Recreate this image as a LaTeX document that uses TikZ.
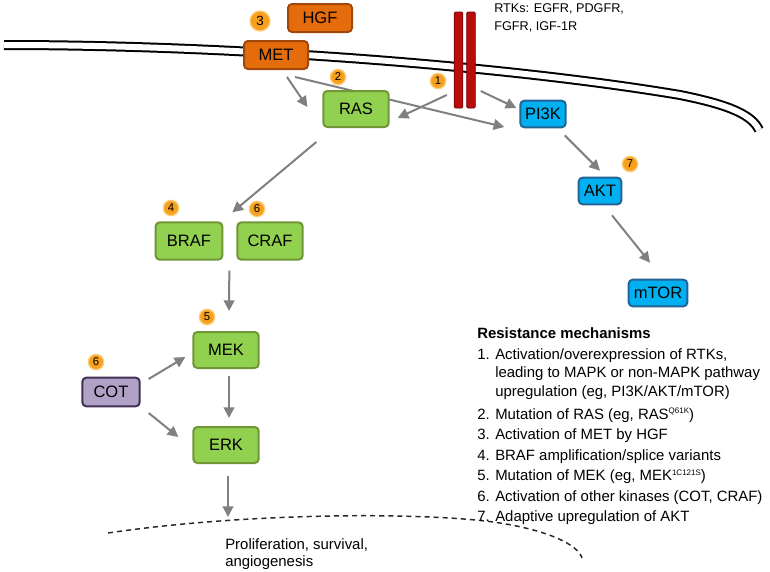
\documentclass[tikz,border=0pt]{standalone}
\usepackage{fontspec}
\setmainfont{Liberation Sans}
\usetikzlibrary{arrows.meta,backgrounds}
\definecolor{metorange}{RGB}{228,108,10}
\definecolor{metedge}{RGB}{160,72,12}
\definecolor{rasgreen}{RGB}{146,208,80}
\definecolor{rasedge}{RGB}{112,150,56}
\definecolor{pikblue}{RGB}{0,176,240}
\definecolor{pikedge}{RGB}{35,100,150}
\definecolor{cotpurple}{RGB}{178,161,199}
\definecolor{cotedge}{RGB}{64,49,82}
\definecolor{rtkred}{RGB}{185,12,12}
\definecolor{rtkedge}{RGB}{125,0,0}
\definecolor{badgefill}{RGB}{247,160,30}
\definecolor{badgering}{RGB}{252,205,120}
\definecolor{arrowgray}{RGB}{128,128,128}
\tikzset{
  kinase/.style={draw, rounded corners=3pt, line width=1.5pt, inner sep=0pt,
    font=\fontsize{12.4}{14}\selectfont},
  orangebox/.style={kinase, fill=metorange, draw=metedge, minimum width=48pt, minimum height=21pt},
  greenbox/.style={kinase, fill=rasgreen, draw=rasedge, minimum width=49pt, minimum height=27pt},
  bluebox/.style={kinase, fill=pikblue, draw=pikedge, minimum height=20pt},
  cotbox/.style={kinase, fill=cotpurple, draw=cotedge, minimum width=43pt, minimum height=21.5pt},
  rtkbar/.style={draw=rtkedge, fill=rtkred, line width=0.6pt, rounded corners=1pt,
    minimum width=6.5pt, minimum height=72pt, inner sep=0pt},
  badge/.style={circle, fill=badgefill, draw=badgering, line width=1pt, inner sep=0pt,
    minimum size=11.5pt, font=\fontsize{8.5}{9}\selectfont},
  arr/.style={draw=arrowgray, line width=1.5pt, -{Triangle[length=8pt,width=8pt]}},
  nucleus/.style={draw=black!85, line width=1.1pt, dash pattern=on 3.8pt off 3pt},
  legend/.style={inner sep=0pt, align=left, font=\fontsize{11.2}{13.9}\selectfont}
}
\begin{document}
\begin{tikzpicture}[x=0.75pt, y=-0.75pt]
  \useasboundingbox (0,0) rectangle (770,571);
  \draw[black, line width=1.5pt, double=white, double distance=4.5pt]
    (4,45) .. controls (250,45) and (520,68) .. (680,95)
    .. controls (730,105) and (752,115) .. (759,130);
  \node[rtkbar] (rtka) at (458.5,60) {};
  \node[rtkbar] (rtkb) at (471,60) {};
  \node[inner sep=0pt, align=left, anchor=north west, font=\fontsize{9.5}{13.1}\selectfont]
    (rtklabel) at (494,3.5) {RTKs: EGFR, PDGFR,\\FGFR, IGF-1R};

  \node[orangebox] (hgf) at (320,18) {HGF};
  \node[orangebox] (met) at (276,55) {MET};
  \node[badge, minimum size=15pt, font=\fontsize{10}{10}\selectfont] (b3) at (260,21) {3};
  \node[greenbox] (ras) at (356,109) {RAS};
  \node[badge] (b2) at (338,77) {2};
  \node[badge] (b1) at (438,81) {1};
  \node[bluebox, minimum width=34pt] (pi3k) at (543,114) {PI3K};
  \node[bluebox, minimum width=32pt] (akt) at (600,191) {AKT};
  \node[badge] (b7) at (630,164) {7};
  \node[bluebox, minimum width=44pt] (mtor) at (658,293) {mTOR};
  \node[greenbox, minimum width=50pt, minimum height=28pt] (braf) at (189,241) {BRAF};
  \node[greenbox, minimum height=28pt] (craf) at (270,241) {CRAF};
  \node[badge] (b4) at (171,208) {4};
  \node[badge] (b6a) at (257,209) {6};
  \node[greenbox] (mek) at (226,350) {MEK};
  \node[badge] (b5) at (207,317) {5};
  \node[greenbox] (erk) at (226,445) {ERK};
  \node[cotbox] (cot) at (111,392) {COT};
  \node[badge] (b6b) at (96,362) {6};

  \draw[nucleus] (108,533) .. controls (250,512) and (430,512) .. (500,523)
    .. controls (550,531) and (578,545) .. (582,558);
  \coordinate (nucl) at (228,517);
  \node[legend, anchor=north west, font=\fontsize{11.2}{13.2}\selectfont] (fate) at (225,538)
    {Proliferation, survival,\\angiogenesis};

  \begin{scope}[on background layer]
    \draw[arr] ([shift={(11,7)}]met.south) -- ([shift={(-15,-2)}]ras.west);
    \draw[arr] ([shift={(19,7)}]met.south) -- ([shift={(-15,13)}]pi3k.west);
    \draw[arr] ([shift={(-7,35)}]rtka.west) -- ([shift={(8,9)}]ras.east);
    \draw[arr] ([shift={(5,31)}]rtkb.east) -- ([shift={(-3,-6)}]pi3k.west);
    \draw[arr] ([shift={(-2,7)}]pi3k.south east) -- ([shift={(0,-6)}]akt.north);
    \draw[arr] ([shift={(12,10)}]akt.south) -- ([shift={(-8,-16)}]mtor.north);
    \draw[arr] ([shift={(-6,14)}]ras.south west) -- ([shift={(9,-9)}]braf.north east);
    \draw[arr] ([shift={(6,10)}]braf.south east) -- ([shift={(3,-20)}]mek.north);
    \draw[arr] ([shift={(3,7)}]mek.south) -- ([shift={(3,-8)}]erk.north);
    \draw[arr] ([shift={(2,12)}]erk.south) -- (nucl);
    \draw[arr] ([shift={(8,-13)}]cot.east) -- ([shift={(-7,7)}]mek.west);
    \draw[arr] ([shift={(8,21)}]cot.east) -- ([shift={(-14,-8)}]erk.west);
  \end{scope}

  \node[legend, anchor=north west] (mechanisms) at (477,327)
    {\textbf{Resistance mechanisms}\\[1.8pt]
     1. Activation/overexpression of RTKs,\\
     \hphantom{1. }leading to MAPK or non-MAPK pathway\\
     \hphantom{1. }upregulation (eg, PI3K/AKT/mTOR)\\[3.5pt]
     2. Mutation of RAS (eg, RAS\raisebox{0.7ex}{\fontsize{6}{6}\selectfont Q61K})\\[1.5pt]
     3. Activation of MET by HGF\\[1.5pt]
     4. BRAF amplification/splice variants\\[1.5pt]
     5. Mutation of MEK (eg, MEK\raisebox{0.7ex}{\fontsize{6}{6}\selectfont 1C121S})\\[1.5pt]
     6. Activation of other kinases (COT, CRAF)\\[1.5pt]
     7. Adaptive upregulation of AKT};
\end{tikzpicture}
\end{document}
